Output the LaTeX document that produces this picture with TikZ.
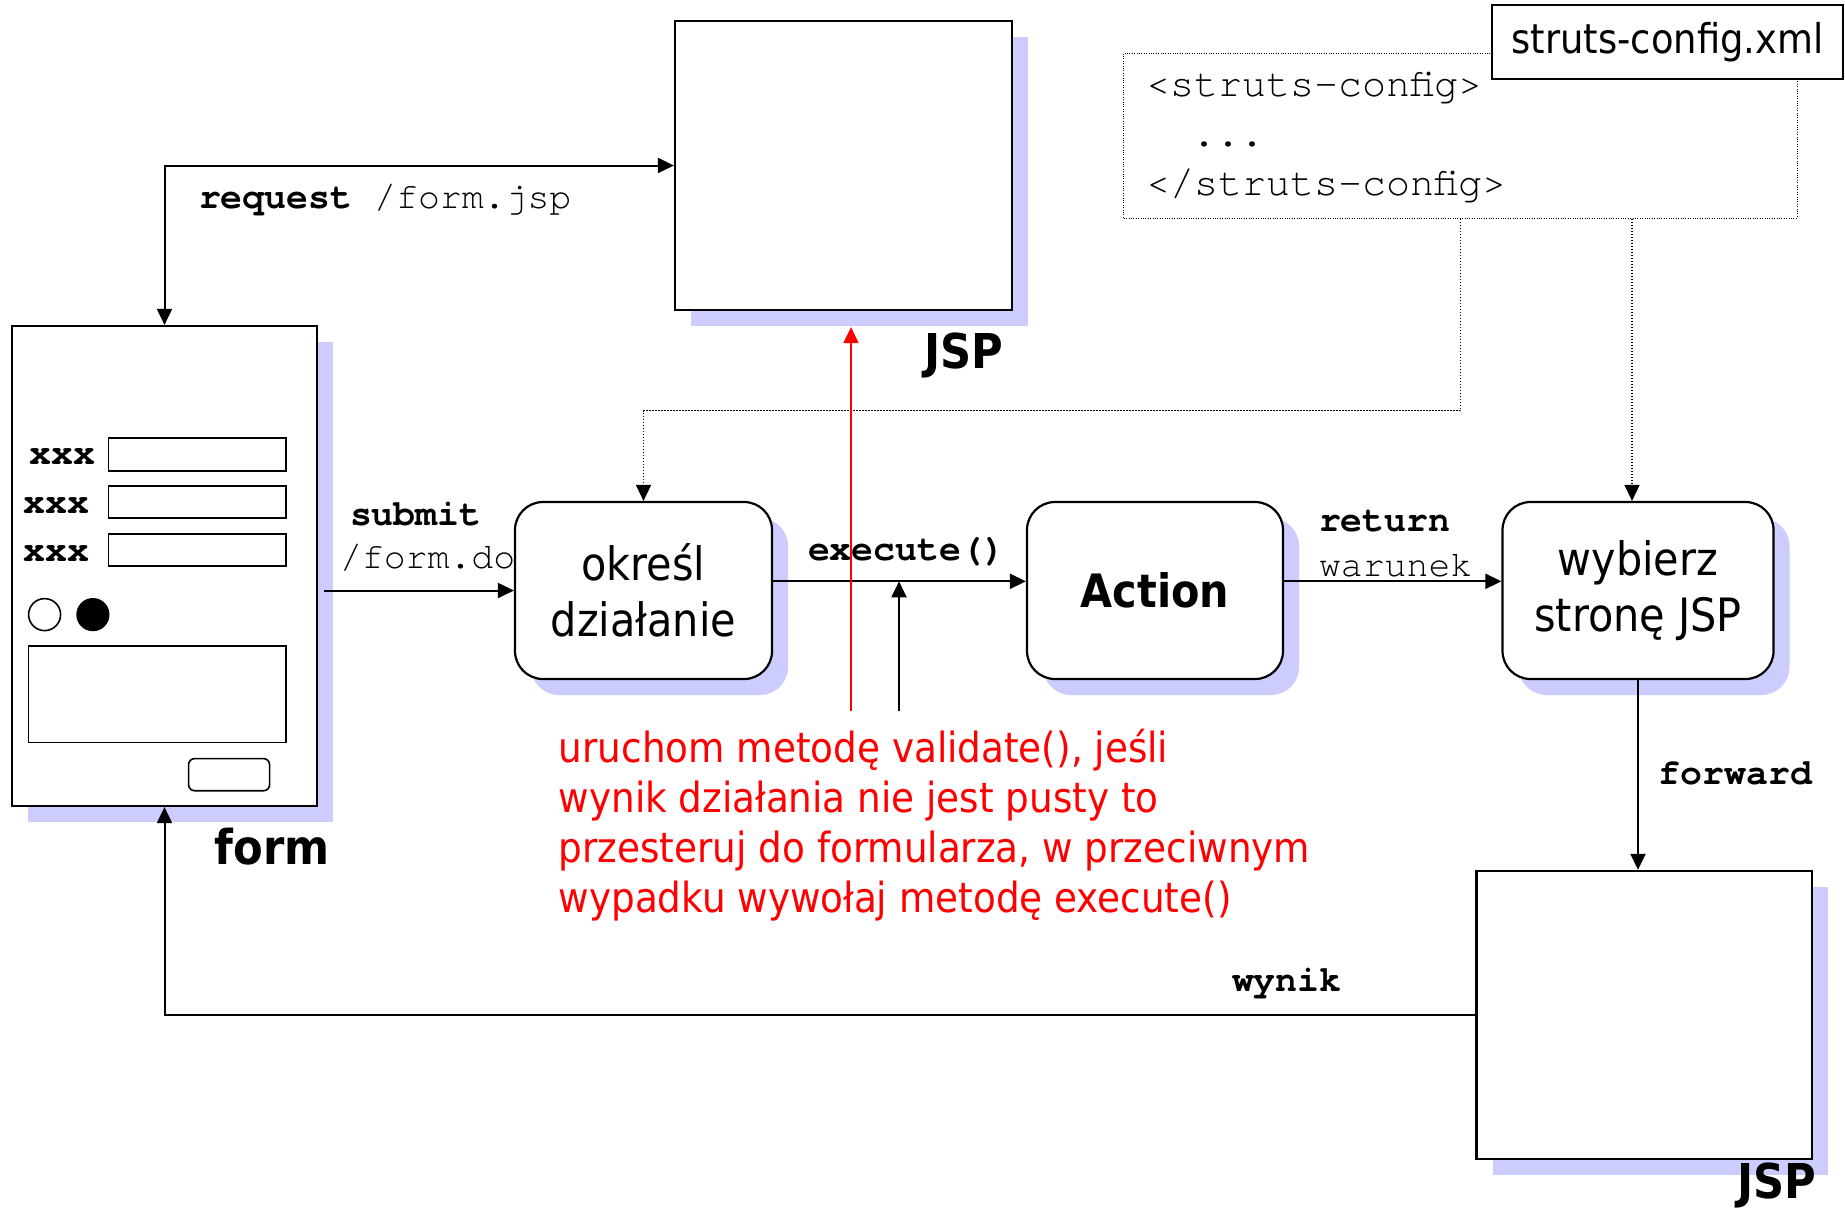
\documentclass[tikz,border=0pt]{standalone}
\usepackage{fontspec}
\setmainfont{DejaVu Sans Condensed}
\setmonofont{TeX Gyre Cursor}
\usetikzlibrary{arrows.meta,shadows}
\definecolor{shade}{RGB}{204,204,255}
\definecolor{note}{RGB}{255,0,0}

\begin{document}
\begin{tikzpicture}[x=0.5pt,y=-0.5pt,
  >={Triangle[length=8pt,width=7.5pt]},
  line width=1pt,
  page/.style={draw, line width=1.1pt, fill=white, rectangle, inner sep=0pt,
    drop shadow={shadow xshift=8pt, shadow yshift=-8pt, fill=shade, opacity=1}},
  stepbox/.style={page, rounded corners=14pt, align=center,
    font=\fontsize{23}{28}\selectfont},
  code/.style={font=\fontsize{18.25}{22}\selectfont\ttfamily, inner sep=0pt},
  codeb/.style={font=\fontsize{18.25}{22}\selectfont\ttfamily\bfseries, inner sep=0pt},
  xmltext/.style={font=\fontsize{20}{24}\selectfont\ttfamily, inner sep=0pt, anchor=base west},
  tag/.style={font=\fontsize{24}{28}\selectfont\bfseries, inner sep=0pt},
  notetext/.style={font=\fontsize{20.75}{25}\selectfont, text=note, inner sep=0pt, anchor=base west},
  cfgline/.style={line width=0.75pt, dash pattern=on 0.75pt off 0.75pt},
  widget/.style={line width=0.8pt},
]
\useasboundingbox (0,0) rectangle (1845,1211);
\fill[white] (0,0) rectangle (1845,1211);

% pages
\node[page, minimum width=152.5pt, minimum height=240pt] (form) at (164.5,566) {};
\node[page, minimum width=168.5pt, minimum height=144.5pt] (jsp1) at (843.5,165.5) {};
\node[page, minimum width=167.75pt, minimum height=144.1pt] (jsp2) at (1644.25,1015) {};

% form widgets
\node[codeb, anchor=base west] (x1) at (28.6,464.6) {xxx};
\node[codeb, anchor=base west] (x2) at (23,513) {xxx};
\node[codeb, anchor=base west] (x3) at (23,561) {xxx};
\draw[widget] (108.6,438) rectangle (285.7,471);
\draw[widget] (108.6,486) rectangle (285.7,518);
\draw[widget] (108.6,534) rectangle (285.7,566);
\draw[widget] (44.6,614.6) circle (8pt);
\fill (92.9,614.6) circle (8.3pt);
\draw[widget] (28.6,646) rectangle (285.7,742.5);
\draw[widget, rounded corners=3pt] (188.6,758.6) rectangle (269.6,790.7);

% processing steps
\node[stepbox, minimum width=128.5pt, minimum height=88.5pt] (okresl) at (643.5,590.5) {określ\\działanie};
\node[stepbox, minimum width=128pt, minimum height=88.5pt,
  font=\fontsize{23}{28}\selectfont\bfseries] (action) at (1155,590.5) {Action};
\node[stepbox, minimum width=135.5pt, minimum height=88.5pt] (wybierz) at (1638,590.5) {wybierz\\stronę JSP};

% configuration file
\node[draw, cfgline, line width=0.5pt, dash pattern=on 0.5pt off 0.7pt,
  minimum width=336.6pt, minimum height=82.5pt, inner sep=0pt] (cfg) at (1460.4,135.5) {};
\node[xmltext] (c1) at (1145,96) {<struts-config>};
\node[xmltext] (c2) at (1191,146) {...};
\node[xmltext] (c3) at (1145,195) {</struts-config>};
\node[draw, line width=1.1pt, fill=white, minimum width=175.5pt, minimum height=37pt,
  inner sep=0pt, font=\fontsize{20.5}{24}\selectfont] (cfgfile) at (1667.5,42) {struts-config.xml};

% connectors
\draw[<->] (form.north) |- (jsp1.west);
\draw[->] ([xshift=3pt]form.east |- okresl.west) -- (okresl.west);
\coordinate (exline) at ([yshift=4.6pt]okresl.east);
\draw[->] (exline) -- ([yshift=4.6pt]action.west);
\draw[->] ([yshift=4.6pt]action.east) -- ([yshift=4.6pt]wybierz.west);
\draw[->] (wybierz.south) -- (wybierz.south |- jsp2.north);
\draw[->] (jsp2.west) -| (form.south);
\coordinate (vin) at (899,711);
\draw[->] (vin) -- (vin |- exline);

\coordinate (dA) at (1460.3,410.7);
\draw[cfgline, ->] (dA |- cfg.south) -- (dA) -- (dA -| okresl.north) -- (okresl.north);
\coordinate (dB) at (1632,300);
\draw[cfgline, ->] (dB |- cfg.south) -- (dB |- wybierz.north);

\coordinate (rin) at (851,711);
\coordinate (jsp1sh) at ([yshift=-8pt]jsp1.south);
\draw[->, note] (rin) -- (rin |- jsp1sh);

% labels
\node[code, anchor=base west] (lreq) at (198,208) {\textbf{request} /form.jsp};
\node[codeb, anchor=base west] (lsub) at (349,525.4) {submit};
\node[code, anchor=base west] (lurl) at (339,568) {/form.do};
\node[codeb, anchor=base west] (lexe) at (807,560) {execute()};
\node[codeb, anchor=base west] (lret) at (1318,531) {return};
\node[code, anchor=base west] (lwar) at (1318,576) {warunek};
\node[codeb, anchor=base west] (lfwd) at (1657.7,784) {forward};
\node[codeb, anchor=base west] (lwyn) at (1231,991.7) {wynik};
\node[tag, anchor=base] (tjsp1) at (964,368) {JSP};
\node[tag, anchor=base] (tjsp2) at (1777,1198) {JSP};
\node[tag, anchor=base] (tform) at (272,864.6) {form};

\node[notetext] (n1) at (557.8,762.7) {uruchom metodę validate(), jeśli};
\node[notetext] (n2) at (557.8,812.7) {wynik działania nie jest pusty to};
\node[notetext] (n3) at (557.8,862.7) {przesteruj do formularza, w przeciwnym};
\node[notetext] (n4) at (557.8,912.7) {wypadku wywołaj metodę execute()};
\end{tikzpicture}
\end{document}
